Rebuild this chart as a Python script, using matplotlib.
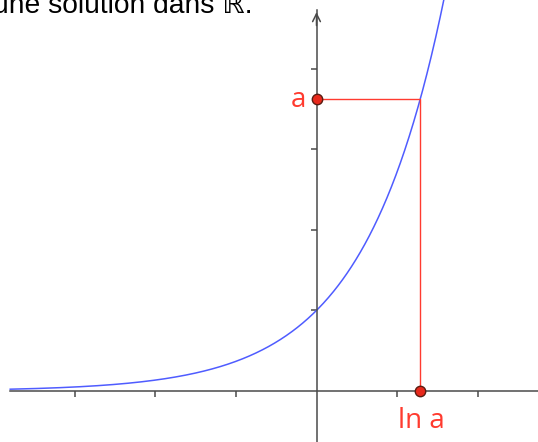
import numpy as np
import matplotlib
matplotlib.use("Agg")
import matplotlib.pyplot as plt

# Exponential curve and the point a / ln a
a_value = 3.62
x_ticks = [-3, -2, -1, 1, 2]
y_ticks = [1, 2, 3, 4]
curve_xmin = -3.8
header_text = "une solution dans ℝ."

W, H, DPI = 538, 442, 100
unit = 80.6          # pixels per unit
ox, oy = 316.5, 391  # origin in pixels (from top-left)

xlim = (-ox / unit, (W - ox) / unit)
ylim = ((oy - H) / unit, oy / unit)

fig = plt.figure(figsize=(W / DPI, H / DPI), dpi=DPI)
ax = fig.add_axes([0, 0, 1, 1])
ax.set_xlim(*xlim)
ax.set_ylim(*ylim)

axis_col = "#4a4a4a"
lw_axis = 1.1

# axes through the origin
for side in ("top", "right"):
    ax.spines[side].set_visible(False)
ax.spines["left"].set_position(("data", 0))
ax.spines["bottom"].set_position(("data", 0))
ax.spines["left"].set_bounds(ylim[0], 4.73)
ax.spines["bottom"].set_bounds(curve_xmin, xlim[1])
for side in ("left", "bottom"):
    ax.spines[side].set_color(axis_col)
    ax.spines[side].set_linewidth(lw_axis)

ax.set_xticks(x_ticks)
ax.set_yticks(y_ticks)
ax.tick_params(direction="out", length=4.3, width=1.1, color=axis_col,
               labelbottom=False, labelleft=False)

# arrow heads
ax.annotate("", xy=(0, 4.73 + 0.005), xytext=(0, 4.5),
            arrowprops=dict(arrowstyle="->", color=axis_col, lw=lw_axis,
                            mutation_scale=14))
ax.annotate("", xy=(xlim[1] + 0.02, 0), xytext=(xlim[1] - 0.3, 0),
            arrowprops=dict(arrowstyle="->", color=axis_col, lw=lw_axis,
                            mutation_scale=14))

# exponential curve
xs = np.linspace(curve_xmin, 1.7, 600)
ax.plot(xs, np.exp(xs), color="#4f5cff", lw=1.1, clip_on=True)

# construction of ln a
red = "#ff3b2f"
ln_a = np.log(a_value)
ax.plot([0, ln_a, ln_a], [a_value, a_value, 0], color=red, lw=1.0)
ax.plot([0, ln_a], [a_value, 0], linestyle="none", marker="o", ms=7.5,
        mfc="#e8291c", mec="#5a1c12", mew=1.0, zorder=5)

ax.text(-18.5 / unit, a_value - 1 / unit, "a", color=red, fontsize=20,
        family="Open Sans", ha="center", va="center")
ax.text(ln_a + 1 / unit, -30 / unit, "ln a", color=red, fontsize=20,
        family="Open Sans", ha="center", va="center")

# header sentence, partly cut by the top edge
fig.text(253 / W, 1 - 13 / H, header_text, fontsize=20.3,
         family=["Liberation Sans", "DejaVu Sans"],
         ha="right", va="baseline", color="black")

fig.savefig("out.png", dpi=DPI)
